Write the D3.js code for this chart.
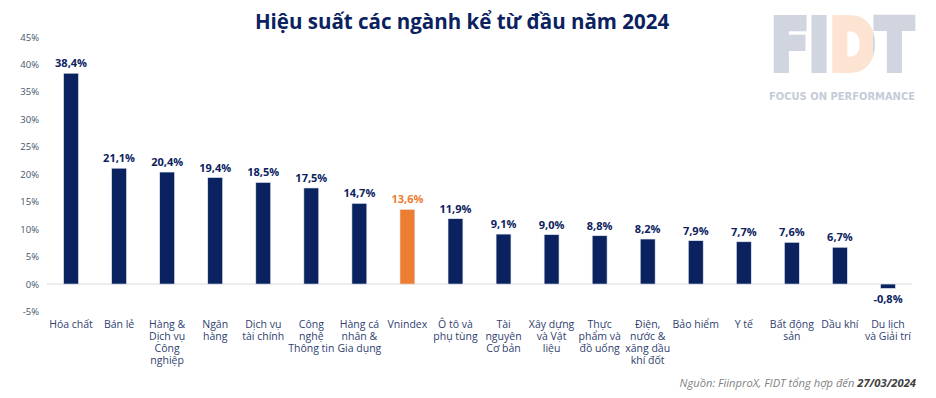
<!DOCTYPE html>
<html>
<head>
<meta charset="utf-8">
<script src="https://cdn.jsdelivr.net/npm/d3@7/dist/d3.min.js"></script>
<style>
body { margin: 0; background: #fff; }
text { font-family: "Open Sans", sans-serif; }
</style>
</head>
<body>
<div id="chart"></div>
<script>
var categories = [
	["Hóa chất"], ["Bán lẻ"], ["Hàng &", "Dịch vụ", "Công", "nghiệp"], ["Ngân", "hàng"],
	["Dịch vụ", "tài chính"], ["Công", "nghệ", "Thông tin"], ["Hàng cá", "nhân &", "Gia dụng"],
	["Vnindex"], ["Ô tô và", "phụ tùng"], ["Tài", "nguyên", "Cơ bản"], ["Xây dựng", "và Vật", "liệu"],
	["Thực", "phẩm và", "đồ uống"], ["Điện,", "nước &", "xăng dầu", "khí đốt"], ["Bảo hiểm"],
	["Y tế"], ["Bất động", "sản"], ["Dầu khí"], ["Du lịch", "và Giải trí"]
];
var values = [38.4, 21.1, 20.4, 19.4, 18.5, 17.5, 14.7, 13.6, 11.9, 9.1, 9.0, 8.8, 8.2, 7.9, 7.7, 7.6, 6.7, -0.8];
var yTicks = [-5, 0, 5, 10, 15, 20, 25, 30, 35, 40, 45];
var highlight = "Vnindex";

var width = 936, height = 398;
var navy = "#0b2260", orange = "#ED7D31";

var svg = d3.select("#chart").append("svg")
	.attr("width", width)
	.attr("height", height);

var x = d3.scaleBand()
	.domain(d3.range(values.length))
	.range([47, 912])
	.paddingInner(0.69)
	.paddingOuter(0.345);

var y = d3.scaleLinear()
	.domain([-5, 45])
	.range([311.5, 37]);

var fmt = function(v) { return v.toFixed(1).replace(".", ",") + "%"; };

// y axis labels
var yaxis = d3.axisLeft(y)
	.tickValues(yTicks)
	.tickSize(0)
	.tickPadding(0)
	.tickFormat(function(d) { return d + "%"; });

svg.append("g")
	.attr("transform", "translate(39,0)")
	.call(yaxis)
	.call(function(g) { g.select(".domain").remove(); })
	.selectAll("text")
	.attr("fill", "#44546a")
	.attr("font-size", "9.5px")
	.style("font-family", "'Open Sans', sans-serif");

// zero line
svg.append("line")
	.attr("x1", 47).attr("x2", 912)
	.attr("y1", y(0)).attr("y2", y(0))
	.attr("stroke", "#d9d9d9")
	.attr("stroke-width", 1);

// bars
svg.selectAll("rect.bar")
	.data(values)
	.enter()
	.append("rect")
	.attr("class", "bar")
	.attr("x", function(d, i) { return x(i); })
	.attr("width", x.bandwidth())
	.attr("y", function(d) { return y(Math.max(0, d)); })
	.attr("height", function(d) { return Math.abs(y(d) - y(0)); })
	.attr("fill", function(d, i) { return categories[i][0] == highlight ? orange : navy; })
	.attr("stroke", "#e6e9f0")
	.attr("stroke-width", 0.6);

// value labels
svg.selectAll("text.val")
	.data(values)
	.enter()
	.append("text")
	.attr("class", "val")
	.attr("x", function(d, i) { return x(i) + x.bandwidth() / 2; })
	.attr("y", function(d) { return d >= 0 ? y(d) - 6 : y(d) + 15; })
	.attr("text-anchor", "middle")
	.attr("font-size", "11px")
	.attr("font-weight", 700)
	.attr("fill", function(d, i) { return categories[i][0] == highlight ? orange : navy; })
	.text(fmt);

// category labels
var cat = svg.selectAll("text.cat")
	.data(categories)
	.enter()
	.append("text")
	.attr("class", "cat")
	.attr("text-anchor", "middle")
	.attr("font-size", "10.5px")
	.attr("fill", "#2f4170");

cat.selectAll("tspan")
	.data(function(d, i) { return d.map(function(s) { return {s: s, i: i}; }); })
	.enter()
	.append("tspan")
	.attr("x", function(d) { return x(d.i) + x.bandwidth() / 2; })
	.attr("y", function(d, j) { return 328 + j * 12; })
	.text(function(d) { return d.s; });

// title
svg.append("text")
	.attr("x", 462)
	.attr("y", 29)
	.attr("text-anchor", "middle")
	.attr("font-size", "20.5px")
	.attr("font-weight", 700)
	.attr("fill", navy)
	.text("Hiệu suất các ngành kể từ đầu năm 2024");

// logo: one text squeezed horizontally, the D coloured through a hard-stop gradient
var logoG = svg.append("g")
	.attr("transform", "translate(771,70) scale(0.77,1)");

var grad = logoG.append("defs").append("linearGradient")
	.attr("id", "logoGrad")
	.attr("gradientUnits", "objectBoundingBox")
	.attr("x1", 0).attr("x2", 1)
	.attr("y1", 0).attr("y2", 0);
var gray = "#d0d5e0", peach = "#fde4d2";
[[0, gray], [0.39, gray], [0.39, peach], [0.715, peach], [0.715, gray], [1, gray]].forEach(function(s) {
	grad.append("stop").attr("offset", s[0]).attr("stop-color", s[1]);
});

logoG.append("text")
	.attr("x", 0)
	.attr("y", 0)
	.attr("font-size", "72px")
	.attr("font-weight", "bold")
	.style("font-family", "'DejaVu Sans', sans-serif")
	.attr("fill", "url(#logoGrad)")
	.attr("stroke", "url(#logoGrad)")
	.attr("stroke-width", 6)
	.text("FIDT");

svg.append("text")
	.attr("x", 769)
	.attr("y", 100)
	.attr("font-size", "10px")
	.attr("font-weight", "bold")
	.attr("fill", "#c5cbd8")
	.style("font-family", "'DejaVu Sans', sans-serif")
	.attr("textLength", 146)
	.attr("lengthAdjust", "spacingAndGlyphs")
	.text("FOCUS ON PERFORMANCE");

// source
var src = svg.append("text")
	.attr("x", 916)
	.attr("y", 387)
	.attr("text-anchor", "end")
	.attr("font-size", "11.2px")
	.attr("font-style", "italic")
	.attr("fill", "#7f7f7f");
src.append("tspan").text("Nguồn: FiinproX, FIDT tổng hợp đến ");
src.append("tspan").attr("font-weight", 700).attr("fill", "#404040").text("27/03/2024");
</script>
</body>
</html>
